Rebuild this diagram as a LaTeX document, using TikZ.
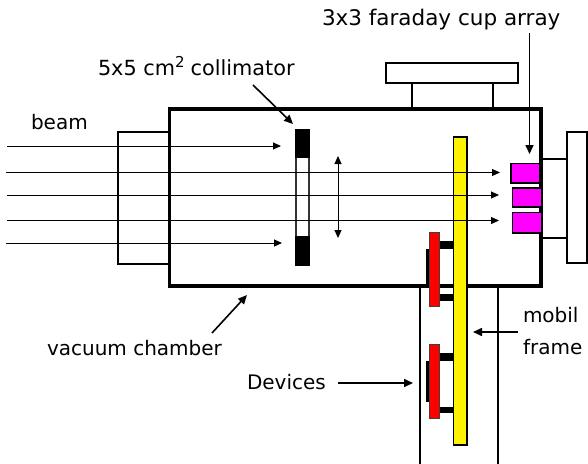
\documentclass[tikz,border=0pt]{standalone}
\usepackage{fontspec}
\setmainfont{DejaVu Sans}
\usetikzlibrary{arrows.meta}
\definecolor{cupcolor}{RGB}{255,0,255}
\newcommand{\bx}[6]{%
  \pgfmathsetmacro{\bxw}{#4-#2}\pgfmathsetmacro{\bxh}{#5-#3}%
  \pgfmathsetmacro{\bxx}{(#4+#2)/2}\pgfmathsetmacro{\bxy}{(#5+#3)/2}%
  \node[partbox,#6,minimum width=\bxw pt,minimum height=\bxh pt] (#1) at (\bxx,\bxy) {};}
\tikzset{
  partbox/.style={draw=black,rectangle,inner sep=0pt,outer sep=0pt,line width=1.5pt},
  wall/.style={line width=3.5pt},
  thin part/.style={line width=1.3pt},
  solid black/.style={fill=black,draw=none},
  redplate/.style={fill=red,line width=1pt,draw=black!75},
  cup/.style={fill=cupcolor,line width=1.5pt},
  ray/.style={draw=black,line width=1pt,-{Triangle[length=8pt,width=7pt]}},
  pointer/.style={draw=black,line width=1.6pt,-{Triangle[length=9pt,width=8pt]}},
  double ray/.style={draw=black,line width=1pt,{Triangle[length=8pt,width=7pt]}-{Triangle[length=8pt,width=7pt]}},
  lab/.style={font=\fontsize{20}{20}\selectfont,inner sep=0pt,outer sep=0pt,anchor=base west,text=black}
}
\begin{document}
\begin{tikzpicture}[x=1pt,y=-1pt]
\useasboundingbox (0,0) rectangle (588,463);
% top flange
\bx{flangew}{386}{63}{518}{83}{thin part}
\bx{flangen}{412}{83}{493}{109}{thin part}
% left tube
\bx{tube}{118}{132}{169}{264}{thin part}
% right mount
\bx{mount}{541}{159}{567}{238}{thin part}
\bx{plate}{567}{132}{587}{263}{thin part}
% frame housing
\bx{housing}{420}{286}{498}{470}{thin part}
% chamber
\bx{chamber}{169.5}{109}{541}{286}{wall}
% collimator
\bx{colwin}{296}{157}{309}{237}{fill=white,line width=1.5pt,draw=black!80}
\bx{coltop}{295}{129}{310}{158}{solid black}
\bx{colbot}{295}{236}{310}{266}{solid black}
% yellow frame
\bx{yellow}{453.5}{137}{467}{445}{fill=yellow,line width=1.2pt}
% devices
\bx{backa}{426}{249}{429}{288}{solid black}
\bx{barat}{440}{241}{453}{249}{solid black}
\bx{barab}{440}{294}{453}{301}{solid black}
\bx{reda}{429.5}{232}{439.5}{306.5}{redplate}
\bx{backb}{426}{361}{429}{402}{solid black}
\bx{barbt}{440}{353}{453}{361}{solid black}
\bx{barbb}{440}{407}{453}{413}{solid black}
\bx{redb}{429.5}{344.5}{439.5}{418}{redplate}
% cups
\bx{cupa}{511}{163.5}{540}{183}{cup}
\bx{cupb}{512.5}{188}{542}{207}{cup}
\bx{cupc}{512.5}{212.5}{542}{233}{cup}
% beam rays
\coordinate (sa) at (7,146);   \coordinate (ea) at (281,146);
\coordinate (sb) at (6,172.5); \coordinate (eb) at (500,172.5);
\coordinate (sc) at (7,195);   \coordinate (ec) at (499,195);
\coordinate (sd) at (7,220.5); \coordinate (ed) at (499,220.5);
\coordinate (se) at (6,243);   \coordinate (ee) at (282,243);
\foreach \r in {a,b,c,d,e} {\draw[ray] (s\r) -- (e\r);}
\coordinate (du) at (338,156); \coordinate (dd) at (338,238);
\draw[double ray] (du) -- (dd);
% labels
\node[lab,font=\fontsize{21.5}{21.5}\selectfont] (lcup) at (322,25) {3x3 faraday cup array};
\node[lab,font=\fontsize{20.8}{21}\selectfont] (lcol) at (98,75) {5x5 cm\raisebox{7.5pt}{\fontsize{15}{15}\selectfont 2}\hspace{6pt}collimator};
\node[lab] (lbeam) at (31,129) {beam};
\node[lab] (lvac) at (47,355) {vacuum chamber};
\node[lab] (ldev) at (247,389) {Devices};
\node[lab] (lmob) at (523,322) {mobil};
\node[lab] (lfra) at (523,354) {frame};
% pointers
\coordinate (pa) at (529.5,33);  \coordinate (pb) at (529.5,154);
\coordinate (pc) at (253,85);    \coordinate (pd) at (293,124);
\coordinate (pe) at (212,333);   \coordinate (pf) at (247,295);
\coordinate (pg) at (518,332);   \coordinate (ph) at (473,332);
\coordinate (pi) at (338,383);   \coordinate (pj) at (413,383);
\draw[pointer] (pa) -- (pb);
\draw[pointer] (pc) -- (pd);
\draw[pointer] (pe) -- (pf);
\draw[pointer] (pg) -- (ph);
\draw[pointer] (pi) -- (pj);
\end{tikzpicture}
\end{document}
